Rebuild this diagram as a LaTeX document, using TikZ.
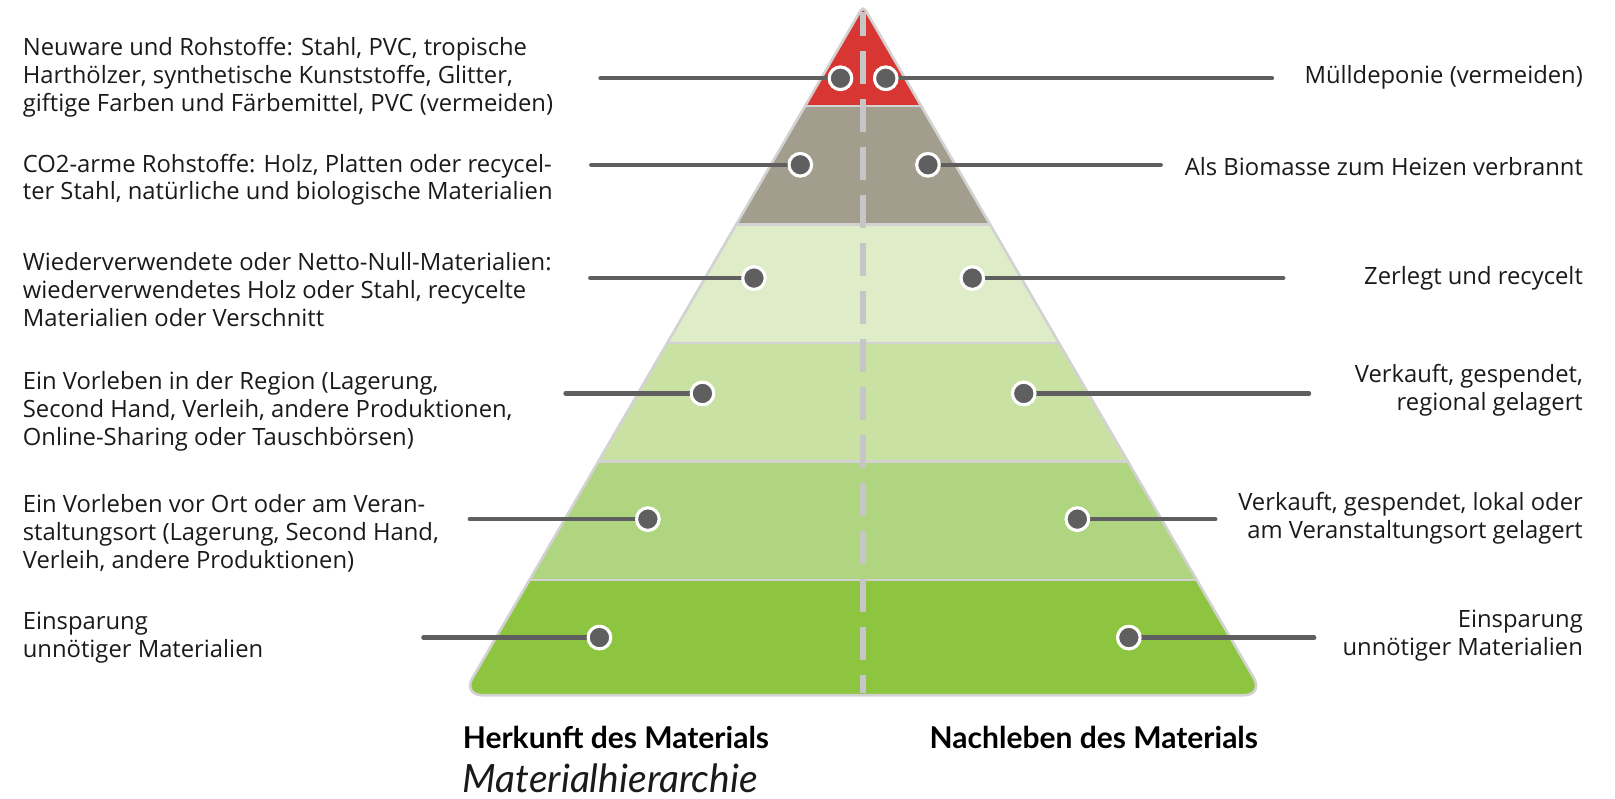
\documentclass[tikz,border=0pt]{standalone}
\usepackage{fontspec}
\setmainfont{Open Sans}
\newfontfamily\headfont{Lato}
\definecolor{cRed}{HTML}{D83632}
\definecolor{cGrey}{HTML}{A39D8E}
\definecolor{cG1}{HTML}{DEEDC8}
\definecolor{cG2}{HTML}{C9E2A4}
\definecolor{cG3}{HTML}{B0D580}
\definecolor{cG4}{HTML}{8DC541}
\definecolor{cEdge}{HTML}{D2D2D2}
\definecolor{cDash}{HTML}{C6C6C6}
\definecolor{cDot}{HTML}{5F5F5F}
\definecolor{cTxt}{HTML}{1A1A1A}
\tikzset{
  conn/.style={draw=cDot, line width=4.2, line cap=round},
  dotnode/.style={circle, fill=cDot, draw=white, line width=3, minimum size=22.5, inner sep=0},
  sepline/.style={draw=cEdge, line width=2.6},
  ltxt/.style={anchor=west, align=left, text=cTxt, inner sep=0, font=\fontsize{23.8}{27.8}\selectfont},
  rtxt/.style={anchor=east, align=right, text=cTxt, inner sep=0, font=\fontsize{23.8}{27.8}\selectfont},
  headtxt/.style={anchor=base, inner sep=0, text=black, font=\headfont\fontsize{30}{34}\selectfont\bfseries},
}
\begin{document}
\begin{tikzpicture}[x=1.02997pt,y=-1.02997pt]
\useasboundingbox (0,0) rectangle (1568,775);
% pyramid bands
\begin{scope}
\clip (838,675) [rounded corners=20] -- (1227,675) [rounded corners=5] -- (838,6) [rounded corners=20] -- (449,675) -- cycle;
\fill[cRed] (400,0) rectangle (1300,103);
\fill[cGrey] (400,103) rectangle (1300,218);
\fill[cG1] (400,218) rectangle (1300,333);
\fill[cG2] (400,333) rectangle (1300,448);
\fill[cG3] (400,448) rectangle (1300,563);
\fill[cG4] (400,563) rectangle (1300,700);
\end{scope}
% band separators
\draw[sepline] (782.6,103) -- (893.4,103);
\draw[sepline] (715.6,218) -- (960.4,218);
\draw[sepline] (648.5,333) -- (1027.5,333);
\draw[sepline] (581.5,448) -- (1094.5,448);
\draw[sepline] (514.4,563) -- (1161.6,563);
% outline
\draw[draw=cEdge, line width=2.6] (838,675) [rounded corners=20] -- (1227,675) [rounded corners=5] -- (838,6) [rounded corners=20] -- (449,675) -- cycle;
% center dashed line
\draw[draw=cDash, line width=6, dash pattern=on 33 off 15, dash phase=9.7] (838,12) -- (838,673);

% dots
\node[dotnode] (l1) at (816,76) {};
\node[dotnode] (r1) at (860,76) {};
\node[dotnode] (l2) at (777,160) {};
\node[dotnode] (r2) at (901,160) {};
\node[dotnode] (l3) at (732,270) {};
\node[dotnode] (r3) at (944,270) {};
\node[dotnode] (l4) at (682,382) {};
\node[dotnode] (r4) at (994,382) {};
\node[dotnode] (l5) at (629,504) {};
\node[dotnode] (r5) at (1046,504) {};
\node[dotnode] (l6) at (582,619) {};
\node[dotnode] (r6) at (1096,619) {};
% free ends
\coordinate (l1e) at (583,76);
\coordinate (r1e) at (1235,76);
\coordinate (l2e) at (574,160);
\coordinate (r2e) at (1127,160);
\coordinate (l3e) at (573,270);
\coordinate (r3e) at (1246,270);
\coordinate (l4e) at (549,382);
\coordinate (r4e) at (1271,382);
\coordinate (l5e) at (456,504);
\coordinate (r5e) at (1180,504);
\coordinate (l6e) at (411,619);
\coordinate (r6e) at (1276,619);
\foreach \s in {l1,r1,l2,r2,l3,r3,l4,r4,l5,r5,l6,r6}{
  \draw[conn] (\s e) -- (\s.center);
}
% dots drawn again above the connectors
\foreach \s/\x/\y in {l1/816/76,r1/860/76,l2/777/160,r2/901/160,l3/732/270,r3/944/270,l4/682/382,r4/994/382,l5/629/504,r5/1046/504,l6/582/619,r6/1096/619}{
  \node[dotnode] at (\x,\y) {};
}

% left texts
\node[ltxt] (t1) at (22,75) {Neuware und Rohstoffe: Stahl, PVC, tropische\\Harthölzer, synthetische Kunststoffe, Glitter,\\giftige Farben und Färbemittel, PVC (vermeiden)};
\node[ltxt] (t2) at (22,174.5) {CO2-arme Rohstoffe: Holz, Platten oder recycel-\\ter Stahl, natürliche und biologische Materialien};
\node[ltxt] (t3) at (22,281) {Wiederverwendete oder Netto-Null-Materialien:\\wiederverwendetes Holz oder Stahl, recycelte\\Materialien oder Verschnitt};
\node[ltxt] (t4) at (22,399.5) {Ein Vorleben in der Region (Lagerung,\\Second Hand, Verleih, andere Produktionen,\\Online-Sharing oder Tauschbörsen)};
\node[ltxt] (t5) at (22,518) {Ein Vorleben vor Ort oder am Veran-\\staltungsort (Lagerung, Second Hand,\\Verleih, andere Produktionen)};
\node[ltxt] (t6) at (22,619) {Einsparung\\unnötiger Materialien};
% right texts
\node[rtxt] (s1) at (1537,75) {Mülldeponie (vermeiden)};
\node[rtxt] (s2) at (1537,162) {Als Biomasse zum Heizen verbrannt};
\node[rtxt] (s3) at (1537,270) {Zerlegt und recycelt};
\node[rtxt] (s4) at (1537,379) {Verkauft, gespendet,\\regional gelagert};
\node[rtxt] (s5) at (1537,503.5) {Verkauft, gespendet, lokal oder\\am Veranstaltungsort gelagert};
\node[rtxt] (s6) at (1537,617) {Einsparung\\unnötiger Materialien};
% headings
\node[headtxt] (h1) at (598,727) {Herkunft des Materials};
\node[headtxt] (h2) at (1062,727) {Nachleben des Materials};
\node[anchor=base west, inner sep=0, text=cTxt, font=\headfont\fontsize{39}{44}\selectfont\itshape] (h3) at (449,769) {Materialhierarchie};
\end{tikzpicture}
\end{document}
